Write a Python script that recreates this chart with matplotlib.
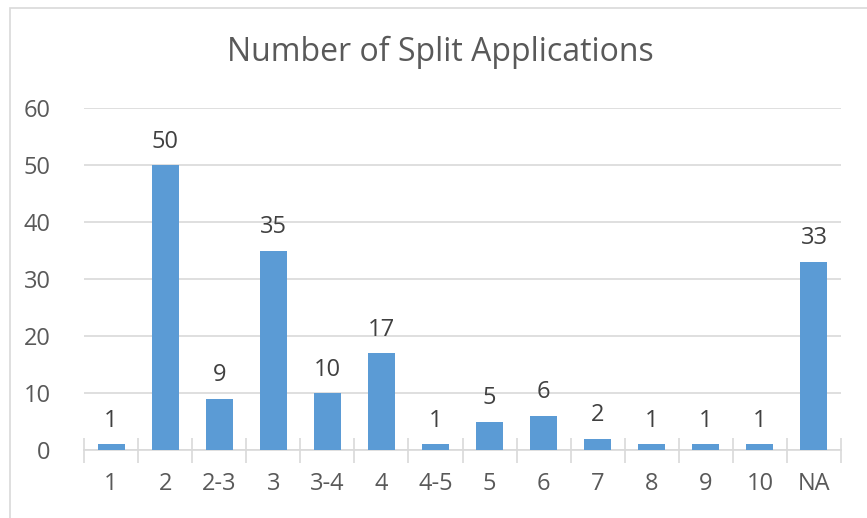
import matplotlib
matplotlib.use("Agg")
import matplotlib.pyplot as plt
import numpy as np
from matplotlib.patches import Rectangle

categories = ["1", "2", "2-3", "3", "3-4", "4", "4-5", "5", "6", "7", "8", "9", "10", "NA"]
values = [1, 50, 9, 35, 10, 17, 1, 5, 6, 2, 1, 1, 1, 33]
yticks = [0, 10, 20, 30, 40, 50, 60]

plt.rcParams['font.family'] = ['Open Sans', 'DejaVu Sans']
txt = '#595959'
grid = '#d9d9d9'

fig = plt.figure(figsize=(8.67, 5.18), dpi=100)
fig.patches.append(Rectangle((10/867, -0.1), 1.2, 1 - 8/518 + 0.1, transform=fig.transFigure,
                             fill=False, edgecolor=grid, linewidth=1.2))
ax = fig.add_axes([84/867, 1 - 450/518, (841 - 84)/867, (450 - 108)/518])
x = np.arange(len(categories))
bars = ax.bar(x, values, width=0.5, color='#5B9BD5', zorder=3)
for xi, v in zip(x, values):
    ax.text(xi, v + 2.0, str(v), ha='center', va='bottom', fontsize=17, color='#404040')

ax.set_xlim(-0.5, len(categories) - 0.5)
ax.set_ylim(0, 60)
ax.set_yticks(yticks)
ax.set_yticklabels([str(t) for t in yticks], fontsize=17, color=txt)
ax.yaxis.grid(True, color=grid, linewidth=1.2, zorder=0)
ax.tick_params(axis='y', length=0, pad=24)
ax.set_xticks(np.arange(len(categories) + 1) - 0.5, minor=False)
ax.set_xticklabels([])
ax.set_xticks(x, minor=True)
ax.set_xticklabels(categories, minor=True, fontsize=17, color=txt)
ax.tick_params(axis='x', which='major', direction='inout', length=18, color=grid, width=1.2)
ax.tick_params(axis='x', which='minor', length=0, pad=16)
for s in ['top', 'right', 'left']:
    ax.spines[s].set_visible(False)
ax.spines['bottom'].set_color(grid)
ax.spines['bottom'].set_linewidth(1.2)
fig.text(440/867, 1 - 52/518, "Number of Split Applications", ha='center', va='center',
         fontsize=23, color=txt)
fig.savefig("out.png", dpi=100)
